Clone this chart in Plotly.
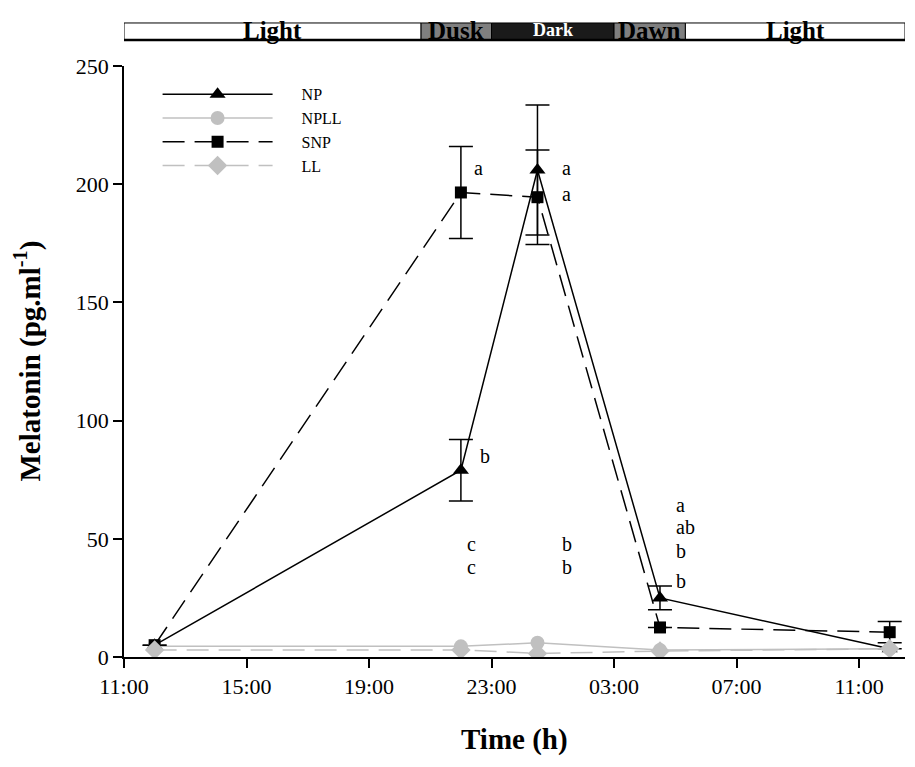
import plotly.graph_objects as go

# Time in hours after 11:00
times = [1.0, 11.0, 13.5, 17.5, 25.0]

np_vals = [5.0, 79.0, 206.0, 25.0, 3.5]
np_err = [0.0, 13.0, 27.5, 5.0, 0.0]
npll_vals = [4.5, 4.5, 6.0, 3.0, 3.5]
snp_vals = [5.0, 196.5, 194.5, 12.5, 10.5]
snp_err = [0.0, 19.5, 20.0, 0.0, 4.5]
ll_vals = [3.0, 3.0, 1.5, 2.5, 3.5]

tick_vals = [0, 4, 8, 12, 16, 20, 24]
tick_text = ["11:00", "15:00", "19:00", "23:00", "03:00", "07:00", "11:00"]

# photoperiod bar
phase_labels = ["Light", "Dusk", "Dark", "Dawn", "Light"]
phase_start = [0.0, 9.7, 12.0, 16.0, 18.33]
phase_end = [9.7, 12.0, 16.0, 18.33, 25.5]
phase_fill = ["white", "#7f7f7f", "#1a1a1a", "#7f7f7f", "white"]
phase_font = ["black", "black", "white", "black", "black"]
phase_size = [25, 25, 18, 25, 25]

# significance letters: x, y, text
letter_x = [11.37, 11.57, 14.25, 14.25, 11.14, 11.14, 14.25, 14.25, 17.97, 17.97, 17.97, 17.97]
letter_y = [207, 85, 207, 196, 48, 38, 48, 38, 64.5, 55, 44.7, 32]
letter_t = ["a", "b", "a", "a", "c", "c", "b", "b", "a", "ab", "b", "b"]

FONT = "Liberation Serif"
GRAY = "#c0c0c0"
PAD = "\u00a0" * 6

fig = go.Figure()

fig.add_trace(go.Scatter(
    x=times, y=np_vals, name=PAD + "NP", mode="lines+markers",
    line=dict(color="black", width=1.5),
    marker=dict(symbol="triangle-up", size=14, color="black"),
    error_y=dict(type="data", array=np_err, visible=True, color="black", thickness=1.5, width=12),
))
fig.add_trace(go.Scatter(
    x=times, y=npll_vals, name=PAD + "NPLL", mode="lines+markers",
    line=dict(color=GRAY, width=1.5),
    marker=dict(symbol="circle", size=14, color=GRAY),
))
fig.add_trace(go.Scatter(
    x=times, y=snp_vals, name=PAD + "SNP", mode="lines+markers",
    line=dict(color="black", width=1.5, dash="22px,10px"),
    marker=dict(symbol="square", size=12, color="black"),
    error_y=dict(type="data", array=snp_err, visible=True, color="black", thickness=1.5, width=12),
))
fig.add_trace(go.Scatter(
    x=times, y=ll_vals, name=PAD + "LL", mode="lines+markers",
    line=dict(color=GRAY, width=1.5, dash="22px,10px"),
    marker=dict(symbol="diamond", size=15, color=GRAY),
))

for t, xx, yy in zip(letter_t, letter_x, letter_y):
    fig.add_annotation(x=xx, y=yy, text=t, showarrow=False, xanchor="left",
                       yanchor="middle", font=dict(family=FONT, size=20, color="black"))

y0b, y1b = 1.044, 1.0728
for lab, s, e, fc, tc, fs in zip(phase_labels, phase_start, phase_end, phase_fill, phase_font, phase_size):
    fig.add_shape(type="rect", xref="x", yref="paper", x0=s, x1=e, y0=y0b, y1=y1b,
                  fillcolor=fc, line=dict(color="black", width=1))
    fig.add_annotation(xref="x", yref="paper", x=(s + e) / 2, y=(y0b + y1b) / 2 + 0.002,
                       text="<b>%s</b>" % lab, showarrow=False,
                       font=dict(family=FONT, size=fs, color=tc), yanchor="middle")
fig.add_shape(type="line", xref="paper", yref="paper", x0=0, x1=1, y0=y0b, y1=y0b,
              line=dict(color="black", width=2.5))

# axis titles
fig.add_annotation(xref="paper", yref="paper", x=0.5, y=-0.1404, text="<b>Time (h)</b>",
                   showarrow=False, xanchor="center", yanchor="middle",
                   font=dict(family=FONT, size=29, color="black"))
fig.add_annotation(xref="paper", yref="paper", x=-0.1229, y=0.5,
                   text="<b>Melatonin (pg.ml<sup>-1</sup>)</b>", textangle=-90,
                   showarrow=False, xanchor="center", yanchor="middle",
                   font=dict(family=FONT, size=29, color="black"))

fig.update_layout(
    template="none",
    width=915, height=767,
    margin=dict(l=116, r=18, t=58, b=118, autoexpand=False),
    plot_bgcolor="white", paper_bgcolor="white",
    font=dict(family=FONT, size=22, color="black"),
    showlegend=True,
    legend=dict(x=0.043, y=0.981, xanchor="left", yanchor="top",
                bgcolor="rgba(0,0,0,0)", itemwidth=110,
                font=dict(family=FONT, size=16), tracegroupgap=0),
    xaxis=dict(range=[0, 25.5], tickvals=tick_vals, ticktext=tick_text, automargin=False,
               showgrid=False, zeroline=False, showline=True, linecolor="black", linewidth=1.5,
               ticks="outside", ticklen=9, tickwidth=1.5, tickcolor="black",
               tickfont=dict(family=FONT, size=22)),
    yaxis=dict(range=[0, 250], tickvals=[0, 50, 100, 150, 200, 250], automargin=False,
               showgrid=False, zeroline=False, showline=True, linecolor="black", linewidth=1.5,
               ticks="outside", ticklen=9, tickwidth=1.5, tickcolor="black",
               tickfont=dict(family=FONT, size=22)),
)

fig.write_html("out.html")
